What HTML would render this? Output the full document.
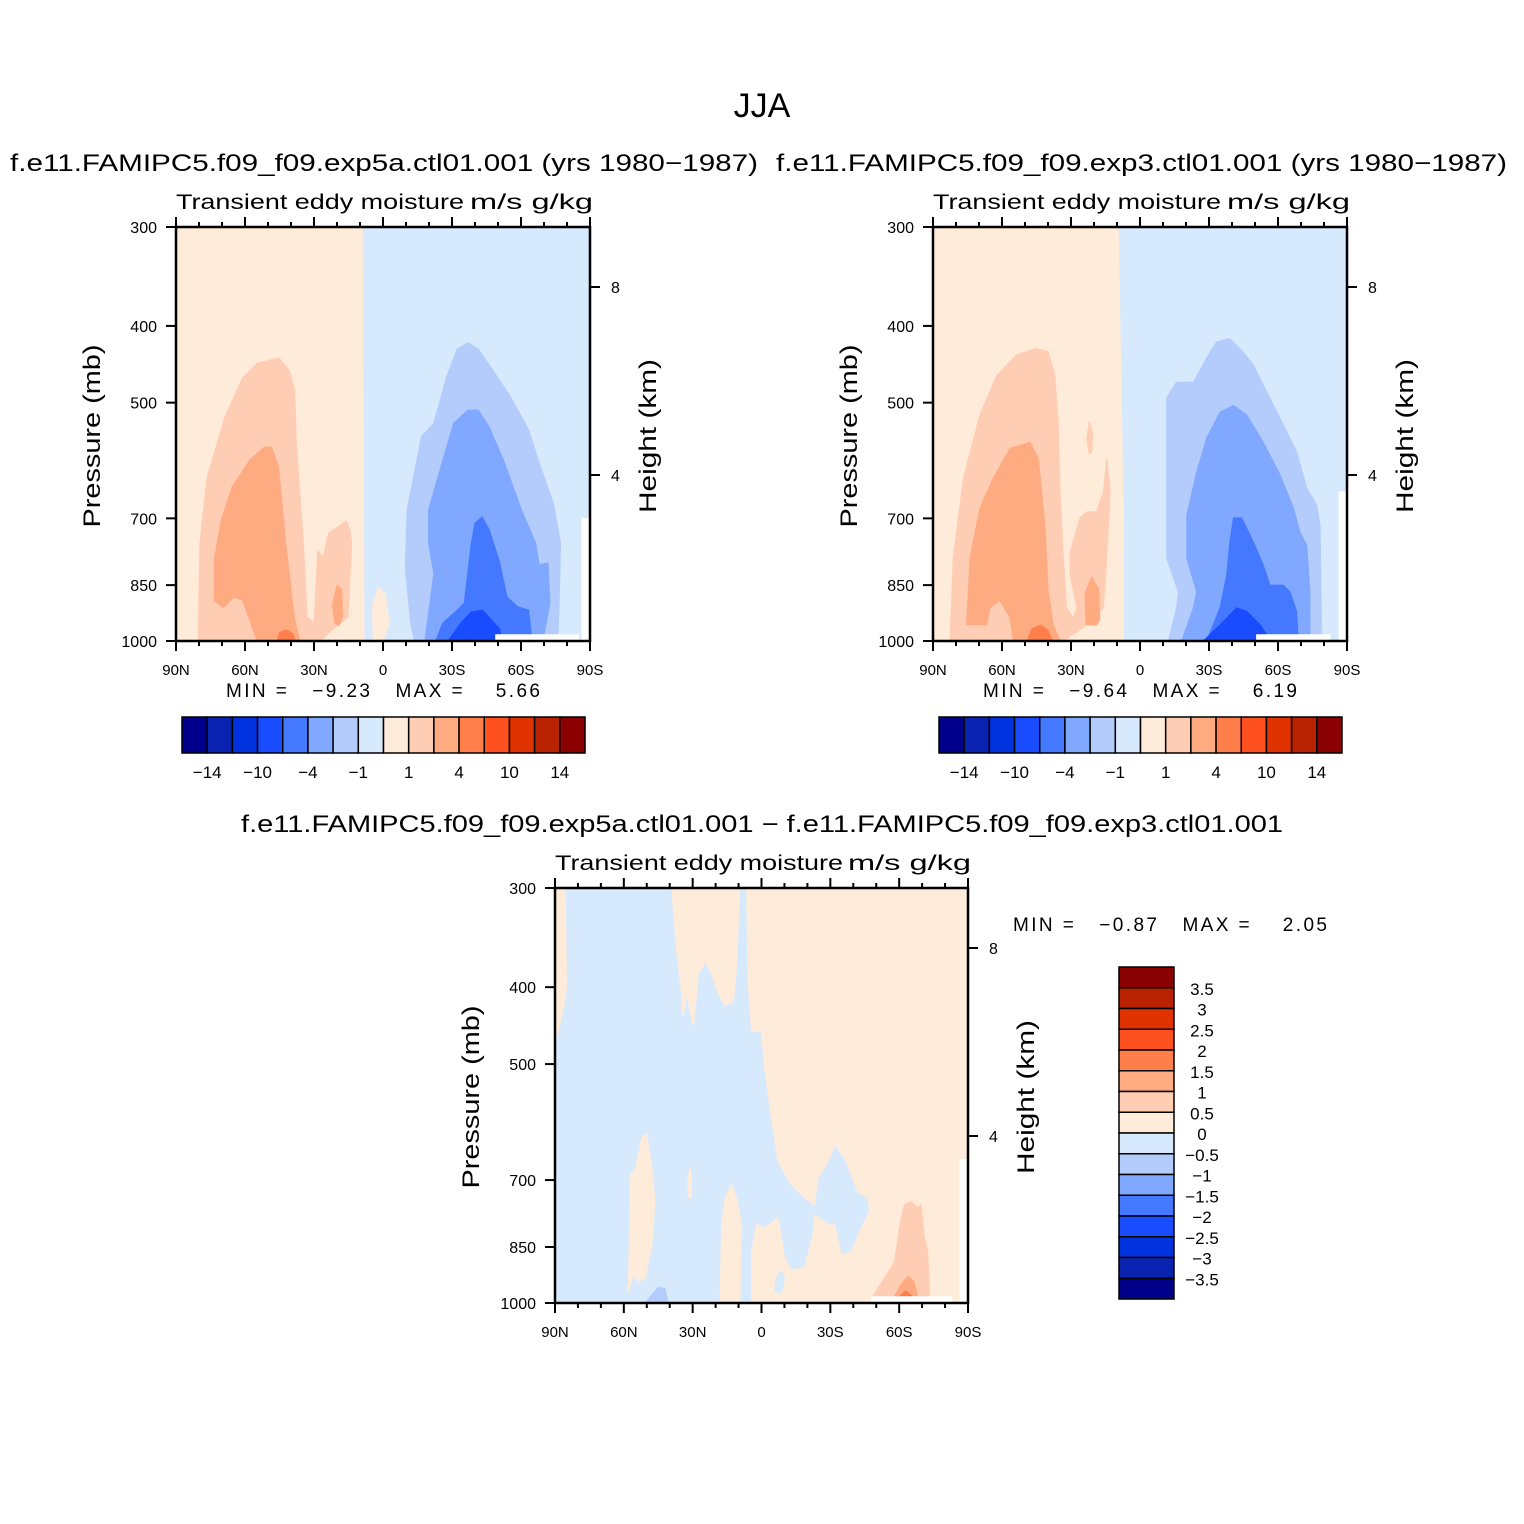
<!DOCTYPE html>
<html><head><meta charset="utf-8"><style>
html,body{margin:0;padding:0;background:#fff}
svg{display:block}
text{font-family:"Liberation Sans",sans-serif;fill:#000}
</style></head><body>
<svg id="fig" width="1524" height="1524" viewBox="0 0 1524 1524" xmlns="http://www.w3.org/2000/svg">
<rect width="1524" height="1524" fill="#fff"/>
<text x="762" y="117" font-size="34" text-anchor="middle">JJA</text>
<text x="10" y="171" font-size="24" textLength="748" lengthAdjust="spacingAndGlyphs">f.e11.FAMIPC5.f09_f09.exp5a.ctl01.001 (yrs 1980−1987)</text>
<text x="776" y="171" font-size="24" textLength="731" lengthAdjust="spacingAndGlyphs">f.e11.FAMIPC5.f09_f09.exp3.ctl01.001 (yrs 1980−1987)</text>
<text x="762" y="832" font-size="24" text-anchor="middle" textLength="1042" lengthAdjust="spacingAndGlyphs">f.e11.FAMIPC5.f09_f09.exp5a.ctl01.001 − f.e11.FAMIPC5.f09_f09.exp3.ctl01.001</text>
<g id="layer"></g>
</svg>
<script>
// palette (16 levels, low -> high)
const palette = ["#00008a","#0a22b0","#0033e0","#1a4cff","#4478ff","#80a8ff","#b4ccfc","#d6e9fd","#ffebd9","#ffcdb3","#ffab82","#ff7e4a","#ff5020","#e03200","#b82200","#8b0000"];
const cbLabelsTop = ["−14","−10","−4","−1","1","4","10","14"];
const cbLabelsDiff = ["3.5","3","2.5","2","1.5","1","0.5","0","−0.5","−1","−1.5","−2","−2.5","−3","−3.5"];
const latTicks = [90,60,30,0,-30,-60,-90];
const latTickLabels = ["90N","60N","30N","0","30S","60S","90S"];
const presTicks = [300,400,500,700,850,1000];
const heightTicks = [8,4];
const minMax1 = ["−9.23","5.66"];
const minMax2 = ["−9.64","6.19"];
const minMax3 = ["−0.87","2.05"];

// contour regions: [level index, [[lat, pressure], ...]]
const p1Regions = [
 [8, [[90,300],[9,300],[8.2,1000],[90,1000]]],
 [9, [[80.4,1000],[79.6,752],[76.5,621],[68.7,521],[61,465],[54.8,446],[45.4,439],[40.8,455],[38.4,482],[37.7,562],[34.6,752],[33,933],[29.9,949],[28.4,768],[26,783],[23.7,731],[15.9,705],[14.4,724],[13.6,752],[15.2,933],[23.7,977],[26.8,1000]]],
 [10,[[73.4,888],[69.5,908],[64.8,880],[61,888],[54.8,1000],[36.1,1000],[38.4,941],[42.3,752],[45.4,603],[48.5,569],[51.6,569],[57.9,591],[65.6,639],[70.3,703],[73.4,790]]],
 [10,[[21,950],[22,900],[20,850],[18,860],[17.5,930],[19,955]]],
 [11,[[46,1000],[45,975],[42,968],[39,980],[38.4,1000]]],
 [8, [[4.3,1000],[4.5,900],[2,855],[-1,870],[-2.7,950],[0,1000]]],
 [6, [[-13.6,1000],[-12,950],[-9.7,807],[-10.5,683],[-16.7,552],[-22.1,531],[-27.5,465],[-32.2,428],[-36.9,420],[-41.5,428],[-47.7,455],[-55.5,492],[-63.3,541],[-67.9,596],[-74.1,670],[-77.2,752],[-76.5,914],[-76,1000]]],
 [5, [[-18.2,1000],[-22.1,822],[-19.8,752],[-19.8,683],[-26,591],[-30.7,531],[-36.9,511],[-41.5,511],[-46.2,537],[-52.4,591],[-60.2,683],[-66.4,752],[-67.9,801],[-71.8,797],[-72.6,896],[-69.5,1000]]],
 [4, [[-22.9,1000],[-26,949],[-32.2,914],[-35.3,896],[-38.4,752],[-40,710],[-43.1,697],[-46.2,724],[-50.8,797],[-53.9,880],[-58.6,905],[-63.3,914],[-64.8,1000]]],
 [3, [[-28.3,1000],[-33.8,949],[-38.4,919],[-43.1,914],[-46.2,934],[-50.8,966],[-51.6,1000]]],
 [-1,[[-49,982],[-85,982],[-85,1000],[-49,1000]]],
 [-1,[[-86.5,700],[-90,700],[-90,1000],[-86.5,1000]]]
];
const p2Regions = [
 [8, [[90,300],[9.5,300],[7.2,700],[7.2,1000],[90,1000]]],
 [9, [[82.6,1000],[81.2,786],[76.8,623],[69.6,518],[62.3,462],[53.6,435],[45,427],[39.9,431],[37,462],[35.5,533],[34.8,648],[33.3,786],[31.9,908],[29,935],[27.5,908],[30.4,825],[30.4,772],[26.1,699],[23.2,687],[18.8,687],[15.9,648],[14.5,588],[13,648],[14.5,786],[15.9,908],[23.2,954],[27.5,974],[33.3,1000]]],
 [9, [[22,580],[23.2,555],[22,528],[20.5,550],[21,578]]],
 [10,[[75.4,954],[73.9,786],[69.6,679],[63.8,623],[56.5,571],[47.8,561],[44.2,588],[41.3,714],[39.9,867],[37.7,954],[34.8,1000],[55.1,1000],[56.5,935],[60.9,888],[65.2,908],[66.7,954]]],
 [10,[[23.5,954],[23.9,870],[21,830],[18,860],[17.5,940],[19,955]]],
 [11,[[49,1000],[47,965],[43,955],[40,970],[38,1000]]],
 [6, [[-12.3,1000],[-15.9,908],[-16.7,867],[-11.6,786],[-11.6,648],[-11.6,493],[-15.9,471],[-23.2,471],[-29,439],[-33.3,419],[-39.1,415],[-44.9,432],[-49.3,448],[-53.6,475],[-60.9,523],[-68.1,577],[-72.5,641],[-76.8,673],[-78.3,714],[-79,1000]]],
 [5, [[-18.1,1000],[-23.2,908],[-24.6,867],[-20.3,786],[-20.3,694],[-24.6,612],[-29,554],[-34.8,514],[-40.6,504],[-46.4,518],[-53.6,561],[-60.9,617],[-66.7,679],[-69.6,729],[-72.5,757],[-73.9,867],[-73.9,1000]]],
 [4, [[-29,1000],[-34.8,908],[-37.7,825],[-39.1,750],[-40.6,699],[-44.2,699],[-49.3,750],[-53.6,802],[-56.5,850],[-62.3,850],[-65.2,867],[-68.1,917],[-68.8,1000]]],
 [3, [[-27.5,1000],[-34.8,954],[-42,908],[-46.4,917],[-52.2,954],[-55.1,982],[-56.5,1000]]],
 [-1,[[-50.7,982],[-82.6,982],[-82.6,1000],[-50.7,1000]]],
 [-1,[[-86.5,648],[-90,648],[-90,1000],[-86.5,1000]]]
];
const p3Regions = [
 [8, [[6.5,300],[5.8,397],[4.3,455],[0,455],[-1.4,505],[-4.3,584],[-7.2,664],[-13,709],[-18.8,737],[-23.2,752],[-24.6,695],[-29,664],[-31.9,632],[-36.2,656],[-42,724],[-46.4,737],[-47.1,767],[-43.5,804],[-39.1,862],[-34.8,870],[-31.9,797],[-29,797],[-23.2,774],[-22.5,821],[-18.8,903],[-13,908],[-10.1,877],[-7.2,781],[-1.4,804],[2.2,797],[4.3,862],[4.3,1000],[-90,1000],[-90,300]]],
 [8, [[39.1,300],[37,360],[34.8,408],[34.1,436],[32.6,408],[29.7,449],[27.5,385],[24.6,372],[21.7,385],[18.8,408],[15.9,422],[12.3,417],[10.9,377],[9.4,300]]],
 [8, [[90,300],[85.5,300],[85,400],[86.5,429],[90,470]]],
 [8, [[58,969],[57.2,689],[55.1,680],[52.2,619],[50,613],[47.8,675],[46.4,745],[47.8,845],[50.7,930],[53.6,940],[55.8,921]]],
 [8, [[31.9,737],[32.2,700],[31.2,675],[30.4,700],[30.6,737]]],
 [8, [[18.1,1000],[17.4,797],[15.9,737],[13,709],[10.9,737],[8.7,797],[9.4,1000]]],
 [7, [[-5.8,969],[-6.5,930],[-8.5,910],[-10.1,930],[-8.7,969]]],
 [6, [[50.7,1000],[45,955],[42,960],[40.6,1000]]],
 [9, [[-48.6,980],[-53.6,930],[-58,887],[-60.1,804],[-62.3,752],[-65.2,745],[-68.1,759],[-69.6,752],[-71,828],[-72.5,862],[-73.2,980]]],
 [10,[[-58,980],[-61,945],[-64,925],[-66.5,940],[-68,980]]],
 [11,[[-60,982],[-63,965],[-66,982]]],
 [-1,[[-48,982],[-83,982],[-83,1000],[-48,1000]]],
 [-1,[[-86.5,660],[-90,660],[-90,1000],[-86.5,1000]]]
];

const NS = "http://www.w3.org/2000/svg";
const layer = document.getElementById("layer");
function mk(tag, attrs, parent) {
  const e = document.createElementNS(NS, tag);
  for (const k in attrs) e.setAttribute(k, attrs[k]);
  (parent || layer).appendChild(e);
  return e;
}
function drawPanel(name, x0, y0, W, H, regions, baseLevel, mm, mmPos) {
  const g = mk("g", {});
  
  
  const xs = lat => x0 + (90 - lat) / 180 * W;
  const ys = p => y0 + H - Math.log(1000 / p) / Math.log(1000 / 300) * H;
  const bg = mk("rect", {x: x0, y: y0, width: W, height: H, fill: palette[baseLevel]}, g);
  
  
  regions.forEach(r => {
    const pts = r[1].map(q => xs(q[0]).toFixed(1) + "," + ys(q[1]).toFixed(1)).join(" ");
    const poly = mk("polygon", {points: pts, fill: r[0] < 0 ? "#fff" : palette[r[0]], stroke: r[0] < 0 ? "#fff" : palette[r[0]], "stroke-width": 1, "stroke-linejoin": "round"}, g);
    
    
  });
  const frame = mk("rect", {x: x0, y: y0, width: W, height: H, fill: "none", stroke: "#000", "stroke-width": 2.5}, g);
  
  
  for (let lat = 90; lat >= -90; lat -= 10) {
    const major = lat % 30 === 0;
    const L = major ? 10 : 5;
    const x = xs(lat);
    mk("line", {x1: x, y1: y0 + H, x2: x, y2: y0 + H + L, stroke: "#000", "stroke-width": 2}, g);
    mk("line", {x1: x, y1: y0, x2: x, y2: y0 - L, stroke: "#000", "stroke-width": 2}, g);
  }
  latTicks.forEach((lat, i) => {
    const t = mk("text", {x: xs(lat), y: y0 + H + 34, "font-size": 15, "text-anchor": "middle"}, g);
    t.textContent = latTickLabels[i];
    
    
  });
  presTicks.forEach(p => {
    const y = ys(p);
    mk("line", {x1: x0, y1: y, x2: x0 - 10, y2: y, stroke: "#000", "stroke-width": 2}, g);
    const t = mk("text", {x: x0 - 19, y: y + 6, "font-size": 16, "text-anchor": "end"}, g);
    t.textContent = p;
    
    
  });
  heightTicks.forEach(h => {
    const y = y0 + H - (h === 8 ? (H - 60) : (H - 248));
    mk("line", {x1: x0 + W, y1: y, x2: x0 + W + 10, y2: y, stroke: "#000", "stroke-width": 2}, g);
    const t = mk("text", {x: x0 + W + 21, y: y + 6, "font-size": 16}, g);
    t.textContent = h;
    
    
  });
  let t = mk("text", {x: x0, y: y0 - 18, "font-size": 21, textLength: 288, lengthAdjust: "spacingAndGlyphs"}, g);
  t.textContent = "Transient  eddy  moisture";
  
  
  t = mk("text", {x: x0 + W - 120, y: y0 - 18, "font-size": 21, textLength: 123, lengthAdjust: "spacingAndGlyphs"}, g);
  t.textContent = "m/s  g/kg";
  
  
  t = mk("text", {x: 0, y: 0, "font-size": 24, "text-anchor": "middle", textLength: 183, lengthAdjust: "spacingAndGlyphs", transform: `translate(${x0 - 76},${y0 + 209}) rotate(-90)`}, g);
  t.textContent = "Pressure  (mb)";
  
  
  t = mk("text", {x: 0, y: 0, "font-size": 24, "text-anchor": "middle", textLength: 154, lengthAdjust: "spacingAndGlyphs", transform: `translate(${x0 + W + 66},${y0 + 209}) rotate(-90)`}, g);
  t.textContent = "Height  (km)";
  
  
  t = mk("text", {x: mmPos[0], y: mmPos[1], "font-size": 19, textLength: 314, lengthAdjust: "spacing", style: "white-space:pre"}, g);
  t.textContent = "MIN =   " + mm[0] + "   MAX =    " + mm[1];
  
  
}
function hColorbar(name, x0, y0) {
  const g = mk("g", {});
  
  
  const bw = 403 / 16;
  palette.forEach((c, i) => {
    const r = mk("rect", {x: x0 + i * bw, y: y0, width: bw, height: 36, fill: c, stroke: "#000", "stroke-width": 1.5}, g);
    
    
  });
  cbLabelsTop.forEach((s, i) => {
    const t = mk("text", {x: x0 + (2 * i + 1) * bw, y: y0 + 61, "font-size": 17, "text-anchor": "middle"}, g);
    t.textContent = s;
    
    
  });
}
drawPanel("panel-exp5a", 176, 227, 414, 414, p1Regions, 7, minMax1, [226, 697]);
drawPanel("panel-exp3", 933, 227, 414, 414, p2Regions, 7, minMax2, [983, 697]);
drawPanel("panel-difference", 555, 888, 413, 415, p3Regions, 7, minMax3, [1013, 931]);
hColorbar("colorbar-left", 182, 717);
hColorbar("colorbar-right", 939, 717);
(function () {
  const g = mk("g", {});
  
  
  const x0 = 1119, y0 = 967, bh = 332 / 16;
  for (let i = 0; i < 16; i++) {
    const r = mk("rect", {x: x0, y: y0 + i * bh, width: 55, height: bh, fill: palette[15 - i], stroke: "#000", "stroke-width": 1.5}, g);
    
    
  }
  cbLabelsDiff.forEach((s, i) => {
    const t = mk("text", {x: 1202, y: y0 + (i + 1) * bh + 7, "font-size": 17, "text-anchor": "middle"}, g);
    t.textContent = s;
    
    
  });
})();
</script>
</body></html>
